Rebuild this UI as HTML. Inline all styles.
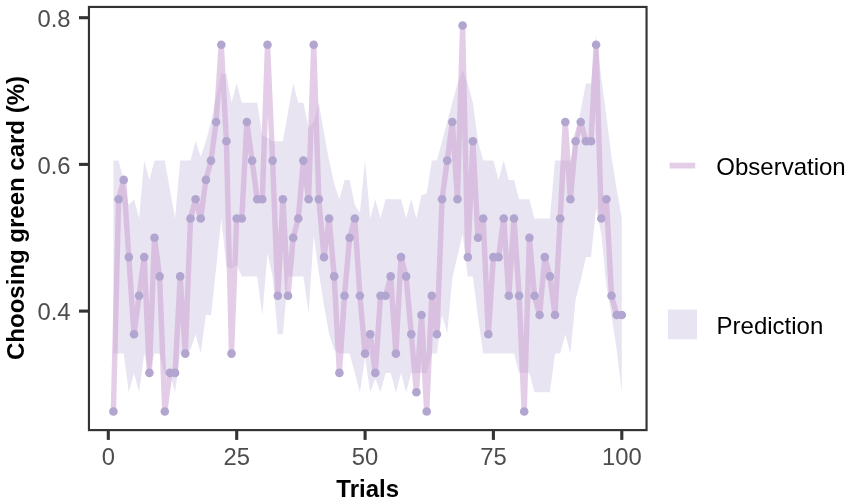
<!DOCTYPE html>
<html><head><meta charset="utf-8"><title>Plot</title>
<style>
html,body{margin:0;padding:0;background:#fff;}
svg{display:block;}
text{font-family:"Liberation Sans",sans-serif;}
.ax{fill:#4d4d4d;font-size:23.8px;}
.lab{fill:#000;font-size:24px;font-weight:bold;}
.leg{fill:#000;font-size:24px;}
</style></head><body>
<svg width="851" height="503" viewBox="0 0 851 503">
<rect width="851" height="503" fill="#fff"/>
<path d="M113.4,160.6 L118.6,160.6 L123.7,179.9 L128.8,205.0 L134.0,199.2 L139.1,218.5 L144.2,160.6 L149.4,179.9 L154.5,160.6 L159.6,160.6 L164.8,160.6 L169.9,189.5 L175.1,218.5 L180.2,160.6 L185.3,160.6 L190.5,160.6 L195.6,141.3 L200.7,156.7 L205.9,141.3 L211.0,122.0 L216.1,96.9 L221.3,73.7 L226.4,73.7 L231.5,102.7 L236.7,83.4 L241.8,102.7 L246.9,102.7 L252.1,102.7 L257.2,102.7 L262.3,135.5 L267.5,137.4 L272.6,141.3 L277.8,141.3 L282.9,141.3 L288.0,112.3 L293.2,83.4 L298.3,102.7 L303.4,102.7 L308.6,127.8 L313.7,122.0 L318.8,102.7 L324.0,133.5 L329.1,160.6 L334.2,183.7 L339.4,199.2 L344.5,179.9 L349.6,179.9 L354.8,205.0 L359.9,212.7 L365.1,160.6 L370.2,218.5 L375.3,199.2 L380.5,218.5 L385.6,199.2 L390.7,199.2 L395.9,199.2 L401.0,199.2 L406.1,218.5 L411.3,199.2 L416.4,218.5 L421.5,195.3 L426.7,193.4 L431.8,160.6 L436.9,160.6 L442.1,141.3 L447.2,122.0 L452.3,102.7 L457.5,83.4 L462.6,69.9 L467.8,83.4 L472.9,102.7 L478.0,141.3 L483.2,160.6 L488.3,160.6 L493.4,160.6 L498.6,179.9 L503.7,160.6 L508.8,179.9 L514.0,179.9 L519.1,199.2 L524.2,199.2 L529.4,199.2 L534.5,218.5 L539.6,218.5 L544.8,218.5 L549.9,218.5 L555.0,160.6 L560.2,160.6 L565.3,160.6 L570.4,160.6 L575.6,137.4 L580.7,110.4 L585.9,83.4 L591.0,83.4 L596.1,35.1 L601.3,77.6 L606.4,116.2 L611.5,156.7 L616.7,189.5 L621.8,218.5 L621.8,392.2 L616.7,349.7 L611.5,315.0 L606.4,286.0 L601.3,233.9 L596.1,208.8 L591.0,257.1 L585.9,257.1 L580.7,280.2 L575.6,299.5 L570.4,353.6 L565.3,334.3 L560.2,353.6 L555.0,353.6 L549.9,392.2 L544.8,392.2 L539.6,392.2 L534.5,392.2 L529.4,372.9 L524.2,372.9 L519.1,372.9 L514.0,353.6 L508.8,353.6 L503.7,353.6 L498.6,353.6 L493.4,353.6 L488.3,353.6 L483.2,353.6 L478.0,316.9 L472.9,276.4 L467.8,276.4 L462.6,233.9 L457.5,256.1 L452.3,278.3 L447.2,333.3 L442.1,315.0 L436.9,353.6 L431.8,353.6 L426.7,372.9 L421.5,372.9 L416.4,372.9 L411.3,372.9 L406.1,392.2 L401.0,372.9 L395.9,392.2 L390.7,372.9 L385.6,372.9 L380.5,392.2 L375.3,378.7 L370.2,392.2 L365.1,357.4 L359.9,392.2 L354.8,372.9 L349.6,353.6 L344.5,353.6 L339.4,353.6 L334.2,349.7 L329.1,334.3 L324.0,305.3 L318.8,272.5 L313.7,235.8 L308.6,313.0 L303.4,276.4 L298.3,276.4 L293.2,276.4 L288.0,276.4 L282.9,334.3 L277.8,334.3 L272.6,276.4 L267.5,253.2 L262.3,315.0 L257.2,276.4 L252.1,276.4 L246.9,276.4 L241.8,276.4 L236.7,264.8 L231.5,268.6 L226.4,266.7 L221.3,218.5 L216.1,268.6 L211.0,315.0 L205.9,315.0 L200.7,353.6 L195.6,334.3 L190.5,349.7 L185.3,353.6 L180.2,353.6 L175.1,392.2 L169.9,372.9 L164.8,372.9 L159.6,353.6 L154.5,353.6 L149.4,372.9 L144.2,353.6 L139.1,392.2 L134.0,372.9 L128.8,392.2 L123.7,353.6 L118.6,353.6 L113.4,353.6Z" fill="#B2A5CF" fill-opacity="0.3" stroke="none"/>
<path d="M113.4,411.5 L118.6,199.2 L123.7,179.9 L128.8,257.1 L134.0,334.3 L139.1,295.7 L144.2,257.1 L149.4,372.9 L154.5,237.8 L159.6,276.4 L164.8,411.5 L169.9,372.9 L175.1,372.9 L180.2,276.4 L185.3,353.6 L190.5,218.5 L195.6,199.2 L200.7,218.5 L205.9,179.9 L211.0,160.6 L216.1,122.0 L221.3,44.8 L226.4,141.3 L231.5,353.6 L236.7,218.5 L241.8,218.5 L246.9,122.0 L252.1,160.6 L257.2,199.2 L262.3,199.2 L267.5,44.8 L272.6,160.6 L277.8,295.7 L282.9,199.2 L288.0,295.7 L293.2,237.8 L298.3,218.5 L303.4,160.6 L308.6,199.2 L313.7,44.8 L318.8,199.2 L324.0,257.1 L329.1,218.5 L334.2,276.4 L339.4,372.9 L344.5,295.7 L349.6,237.8 L354.8,218.5 L359.9,295.7 L365.1,353.6 L370.2,334.3 L375.3,372.9 L380.5,295.7 L385.6,295.7 L390.7,276.4 L395.9,353.6 L401.0,257.1 L406.1,276.4 L411.3,334.3 L416.4,392.2 L421.5,315.0 L426.7,411.5 L431.8,295.7 L436.9,334.3 L442.1,199.2 L447.2,160.6 L452.3,122.0 L457.5,199.2 L462.6,25.5 L467.8,257.1 L472.9,141.3 L478.0,237.8 L483.2,218.5 L488.3,334.3 L493.4,257.1 L498.6,257.1 L503.7,218.5 L508.8,295.7 L514.0,218.5 L519.1,295.7 L524.2,411.5 L529.4,237.8 L534.5,295.7 L539.6,315.0 L544.8,257.1 L549.9,276.4 L555.0,315.0 L560.2,218.5 L565.3,122.0 L570.4,199.2 L575.6,141.3 L580.7,122.0 L585.9,141.3 L591.0,141.3 L596.1,44.8 L601.3,218.5 L606.4,199.2 L611.5,295.7 L616.7,315.0 L621.8,315.0" fill="none" stroke="#C99BCF" stroke-opacity="0.5" stroke-width="5.4" stroke-linejoin="round" stroke-linecap="butt"/>
<g fill="#B2A5CF"><circle cx="113.4" cy="411.5" r="4.3"/><circle cx="118.6" cy="199.2" r="4.3"/><circle cx="123.7" cy="179.9" r="4.3"/><circle cx="128.8" cy="257.1" r="4.3"/><circle cx="134.0" cy="334.3" r="4.3"/><circle cx="139.1" cy="295.7" r="4.3"/><circle cx="144.2" cy="257.1" r="4.3"/><circle cx="149.4" cy="372.9" r="4.3"/><circle cx="154.5" cy="237.8" r="4.3"/><circle cx="159.6" cy="276.4" r="4.3"/><circle cx="164.8" cy="411.5" r="4.3"/><circle cx="169.9" cy="372.9" r="4.3"/><circle cx="175.1" cy="372.9" r="4.3"/><circle cx="180.2" cy="276.4" r="4.3"/><circle cx="185.3" cy="353.6" r="4.3"/><circle cx="190.5" cy="218.5" r="4.3"/><circle cx="195.6" cy="199.2" r="4.3"/><circle cx="200.7" cy="218.5" r="4.3"/><circle cx="205.9" cy="179.9" r="4.3"/><circle cx="211.0" cy="160.6" r="4.3"/><circle cx="216.1" cy="122.0" r="4.3"/><circle cx="221.3" cy="44.8" r="4.3"/><circle cx="226.4" cy="141.3" r="4.3"/><circle cx="231.5" cy="353.6" r="4.3"/><circle cx="236.7" cy="218.5" r="4.3"/><circle cx="241.8" cy="218.5" r="4.3"/><circle cx="246.9" cy="122.0" r="4.3"/><circle cx="252.1" cy="160.6" r="4.3"/><circle cx="257.2" cy="199.2" r="4.3"/><circle cx="262.3" cy="199.2" r="4.3"/><circle cx="267.5" cy="44.8" r="4.3"/><circle cx="272.6" cy="160.6" r="4.3"/><circle cx="277.8" cy="295.7" r="4.3"/><circle cx="282.9" cy="199.2" r="4.3"/><circle cx="288.0" cy="295.7" r="4.3"/><circle cx="293.2" cy="237.8" r="4.3"/><circle cx="298.3" cy="218.5" r="4.3"/><circle cx="303.4" cy="160.6" r="4.3"/><circle cx="308.6" cy="199.2" r="4.3"/><circle cx="313.7" cy="44.8" r="4.3"/><circle cx="318.8" cy="199.2" r="4.3"/><circle cx="324.0" cy="257.1" r="4.3"/><circle cx="329.1" cy="218.5" r="4.3"/><circle cx="334.2" cy="276.4" r="4.3"/><circle cx="339.4" cy="372.9" r="4.3"/><circle cx="344.5" cy="295.7" r="4.3"/><circle cx="349.6" cy="237.8" r="4.3"/><circle cx="354.8" cy="218.5" r="4.3"/><circle cx="359.9" cy="295.7" r="4.3"/><circle cx="365.1" cy="353.6" r="4.3"/><circle cx="370.2" cy="334.3" r="4.3"/><circle cx="375.3" cy="372.9" r="4.3"/><circle cx="380.5" cy="295.7" r="4.3"/><circle cx="385.6" cy="295.7" r="4.3"/><circle cx="390.7" cy="276.4" r="4.3"/><circle cx="395.9" cy="353.6" r="4.3"/><circle cx="401.0" cy="257.1" r="4.3"/><circle cx="406.1" cy="276.4" r="4.3"/><circle cx="411.3" cy="334.3" r="4.3"/><circle cx="416.4" cy="392.2" r="4.3"/><circle cx="421.5" cy="315.0" r="4.3"/><circle cx="426.7" cy="411.5" r="4.3"/><circle cx="431.8" cy="295.7" r="4.3"/><circle cx="436.9" cy="334.3" r="4.3"/><circle cx="442.1" cy="199.2" r="4.3"/><circle cx="447.2" cy="160.6" r="4.3"/><circle cx="452.3" cy="122.0" r="4.3"/><circle cx="457.5" cy="199.2" r="4.3"/><circle cx="462.6" cy="25.5" r="4.3"/><circle cx="467.8" cy="257.1" r="4.3"/><circle cx="472.9" cy="141.3" r="4.3"/><circle cx="478.0" cy="237.8" r="4.3"/><circle cx="483.2" cy="218.5" r="4.3"/><circle cx="488.3" cy="334.3" r="4.3"/><circle cx="493.4" cy="257.1" r="4.3"/><circle cx="498.6" cy="257.1" r="4.3"/><circle cx="503.7" cy="218.5" r="4.3"/><circle cx="508.8" cy="295.7" r="4.3"/><circle cx="514.0" cy="218.5" r="4.3"/><circle cx="519.1" cy="295.7" r="4.3"/><circle cx="524.2" cy="411.5" r="4.3"/><circle cx="529.4" cy="237.8" r="4.3"/><circle cx="534.5" cy="295.7" r="4.3"/><circle cx="539.6" cy="315.0" r="4.3"/><circle cx="544.8" cy="257.1" r="4.3"/><circle cx="549.9" cy="276.4" r="4.3"/><circle cx="555.0" cy="315.0" r="4.3"/><circle cx="560.2" cy="218.5" r="4.3"/><circle cx="565.3" cy="122.0" r="4.3"/><circle cx="570.4" cy="199.2" r="4.3"/><circle cx="575.6" cy="141.3" r="4.3"/><circle cx="580.7" cy="122.0" r="4.3"/><circle cx="585.9" cy="141.3" r="4.3"/><circle cx="591.0" cy="141.3" r="4.3"/><circle cx="596.1" cy="44.8" r="4.3"/><circle cx="601.3" cy="218.5" r="4.3"/><circle cx="606.4" cy="199.2" r="4.3"/><circle cx="611.5" cy="295.7" r="4.3"/><circle cx="616.7" cy="315.0" r="4.3"/><circle cx="621.8" cy="315.0" r="4.3"/></g>
<rect x="88.95" y="6.95" width="557.6" height="423.15" fill="none" stroke="#333" stroke-width="2.15"/>
<g stroke="#333" stroke-width="3.1"><line x1="79.0" x2="88.9" y1="17.7" y2="17.7"/><line x1="79.0" x2="88.9" y1="164.4" y2="164.4"/><line x1="79.0" x2="88.9" y1="311.1" y2="311.1"/><line x1="108.3" x2="108.3" y1="430.1" y2="439.9"/><line x1="236.7" x2="236.7" y1="430.1" y2="439.9"/><line x1="365.1" x2="365.1" y1="430.1" y2="439.9"/><line x1="493.4" x2="493.4" y1="430.1" y2="439.9"/><line x1="621.8" x2="621.8" y1="430.1" y2="439.9"/></g>
<g class="ax" text-anchor="end"><text x="70.6" y="26.8">0.8</text><text x="70.6" y="173.5">0.6</text><text x="70.6" y="320.2">0.4</text></g>
<g class="ax" text-anchor="middle"><text x="108.3" y="465.2">0</text><text x="236.7" y="465.2">25</text><text x="365.1" y="465.2">50</text><text x="493.4" y="465.2">75</text><text x="621.8" y="465.2">100</text></g>
<text class="lab" text-anchor="middle" x="367.7" y="496.8">Trials</text>
<text class="lab" text-anchor="middle" transform="translate(24.4,218) rotate(-90)">Choosing green card (%)</text>
<line x1="669.6" x2="695.2" y1="165.6" y2="165.6" stroke="#C99BCF" stroke-opacity="0.5" stroke-width="5.8"/>
<text class="leg" x="716.3" y="174.6">Observation</text>
<rect x="668" y="309.5" width="29" height="29.8" fill="#B2A5CF" fill-opacity="0.3"/>
<text class="leg" x="716.6" y="333.7">Prediction</text>
</svg>
</body></html>
